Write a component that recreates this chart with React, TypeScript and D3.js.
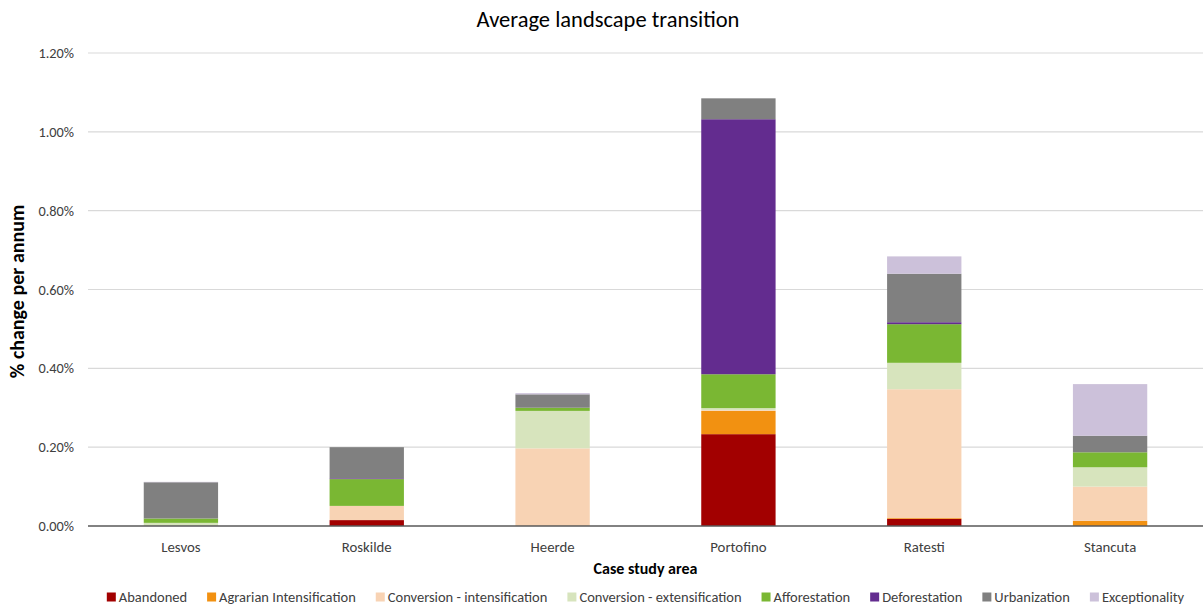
import React, { useEffect, useRef } from "react";
import * as d3 from "d3";

// Case study areas along the x axis
const areas = ["Lesvos", "Roskilde", "Heerde", "Portofino", "Ratesti", "Stancuta"];

// Transition types, stacked bottom to top
const transitions = [
  "Abandoned",
  "Agrarian Intensification",
  "Conversion - intensification",
  "Conversion - extensification",
  "Afforestation",
  "Deforestation",
  "Urbanization",
  "Exceptionality",
];

const transitionColors = [
  "#A20000",
  "#F29111",
  "#F8D3B4",
  "#D7E4BD",
  "#7AB733",
  "#632C8F",
  "#808080",
  "#CCC1DA",
];

// % change per annum, one value per area (Lesvos … Stancuta)
const abandoned = [0, 0.015, 0, 0.233, 0.018, 0];
const agrarianIntensification = [0, 0, 0, 0.059, 0.002, 0.013];
const conversionIntensification = [0, 0.036, 0.197, 0.002, 0.327, 0.087];
const conversionExtensification = [0.008, 0, 0.095, 0.005, 0.067, 0.049];
const afforestation = [0.011, 0.068, 0.008, 0.086, 0.098, 0.038];
const deforestation = [0, 0.002, 0, 0.647, 0.005, 0];
const urbanization = [0.092, 0.079, 0.034, 0.053, 0.123, 0.042];
const exceptionality = [0.001, 0, 0.003, 0, 0.044, 0.131];

const seriesValues = [
  abandoned,
  agrarianIntensification,
  conversionIntensification,
  conversionExtensification,
  afforestation,
  deforestation,
  urbanization,
  exceptionality,
];

const yTicks = [0, 0.2, 0.4, 0.6, 0.8, 1.0, 1.2];

const WIDTH = 1204;
const HEIGHT = 607;
const FONT = "Carlito, Calibri, Lato, 'Open Sans', sans-serif";

export default function App() {
  const legendRef = useRef<SVGGElement>(null);

  const margin = { top: 53, right: 1, bottom: 81, left: 88 };
  const plotW = WIDTH - margin.left - margin.right;
  const plotH = HEIGHT - margin.top - margin.bottom;

  const x = d3.scaleBand<string>().domain(areas).range([0, plotW]).paddingInner(0.6).paddingOuter(0.3);
  const y = d3.scaleLinear().domain([0, 1.2]).range([plotH, 0]);

  const rows = areas.map((a, i) => {
    const r: Record<string, number | string> = { area: a };
    transitions.forEach((t, k) => (r[t] = seriesValues[k][i]));
    return r;
  });
  const stacked = d3.stack<Record<string, number | string>>().keys(transitions)(rows as any);

  useEffect(() => {
    document.body.style.margin = "0";
    const g = legendRef.current;
    if (!g) return;
    // Lay out legend entries side by side from their measured text widths
    const items = Array.from(g.querySelectorAll<SVGGElement>("g.item"));
    const sq = 9, gapText = 3, gapItem = 20;
    const widths = items.map((it) => {
      const t = it.querySelector("text") as SVGTextElement;
      return sq + gapText + t.getComputedTextLength();
    });
    const total = d3.sum(widths) + gapItem * (items.length - 1);
    let cx = margin.left + plotW / 2 - total / 2;
    items.forEach((it, i) => {
      it.setAttribute("transform", `translate(${cx},0)`);
      cx += widths[i] + gapItem;
    });
  }, []);

  return (
    <svg width={WIDTH} height={HEIGHT} style={{ display: "block", background: "#fff" }} fontFamily={FONT}>
      <text x={(margin.left + WIDTH) / 2 - 38} y={27} textAnchor="middle" fontSize={22.5} fill="#000">
        Average landscape transition
      </text>

      <g transform={`translate(${margin.left},${margin.top})`}>
        {yTicks.map((t) => (
          <g key={t}>
            {t !== 0 && (
              <line x1={0} x2={plotW} y1={y(t)} y2={y(t)} stroke="#D9D9D9" strokeWidth={1.2} />
            )}
            <text x={-14} y={y(t)} dy="0.35em" textAnchor="end" fontSize={14.3} fill="#404040">
              {d3.format(".2f")(t)}%
            </text>
          </g>
        ))}

        {stacked.map((layer, k) => (
          <g key={layer.key} fill={transitionColors[k]}>
            {layer.map((d, i) => {
              const h = y(d[0]) - y(d[1]);
              if (h <= 0) return null;
              return (
                <rect
                  key={areas[i]}
                  x={x(areas[i])}
                  y={y(d[1])}
                  width={x.bandwidth()}
                  height={h}
                />
              );
            })}
          </g>
        ))}

        <line x1={0} x2={plotW} y1={y(0)} y2={y(0)} stroke="#595959" strokeWidth={1.5} />

        {areas.map((a) => (
          <text
            key={a}
            x={(x(a) ?? 0) + x.bandwidth() / 2}
            y={plotH + 26}
            textAnchor="middle"
            fontSize={14.8}
            fill="#404040"
          >
            {a}
          </text>
        ))}

        <text x={plotW / 2} y={plotH + 48} textAnchor="middle" fontSize={16} fontWeight="bold" fill="#000">
          Case study area
        </text>

        <text
          transform={`translate(${-64},${plotH / 2 + 2}) rotate(-90)`}
          textAnchor="middle"
          fontSize={20}
          fontWeight="bold"
          fill="#000"
        >
          % change per annum
        </text>
      </g>

      <g ref={legendRef} transform={`translate(0,${597})`}>
        {transitions.map((t, k) => (
          <g key={t} className="item">
            <rect x={0} y={-4.5} width={9} height={9} fill={transitionColors[k]} />
            <text x={12} y={0} dy="0.35em" fontSize={14.5} fill="#404040">
              {t}
            </text>
          </g>
        ))}
      </g>
    </svg>
  );
}
